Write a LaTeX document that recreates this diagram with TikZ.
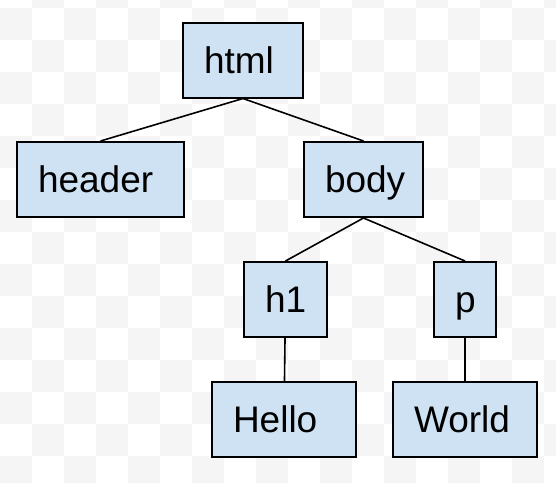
\documentclass[tikz,border=0pt]{standalone}
\usepackage{fontspec}
\setmainfont{Liberation Sans}
\usetikzlibrary{positioning}
\definecolor{tagFl}{HTML}{CFE2F3}
\definecolor{checkFl}{HTML}{F5F5F5}

\begin{document}
\begin{tikzpicture}[
  x=0.5pt, y=-0.5pt,
  font=\fontsize{18.5}{21}\selectfont,
  tag/.style={draw=black, fill=tagFl, line width=1pt,
              minimum height=37.5pt, inner xsep=10.5pt, inner ysep=0pt,
              text width=#1, align=left, text height=17pt, text depth=4pt},
  link/.style={line width=0.8pt, draw=black},
]

% ---------- background ----------
\fill[white] (0,0) rectangle (556,482);
\begin{scope}
  \clip (0,0) rectangle (556,482);
  \foreach \i in {0,...,17}
    \foreach \j in {-1,...,14} {
      \pgfmathtruncatemacro{\cellodd}{mod(\i+\j+2,2)}
      \ifnum\cellodd=0
        \fill[checkFl] (32*\i,8+32*\j) rectangle ++(32,32);
      \fi
    }
\end{scope}
\useasboundingbox (0,0) rectangle (556,482);

% ---------- tree ----------
\node[tag=39pt] (html) at (243,60) {html};
\node[tag=62.5pt] (header) at (100.5,179.5) {header};
\node[tag=38.5pt] (body) at (363.5,179.5) {body};
\node[tag=20.5pt] (h1) at (285.5,299.5) {h1};
\node[tag=10pt] (p) at (465,299.5) {p};
\node[tag=51pt] (hello) at (284,419.5) {Hello};
\node[tag=51pt] (world) at (465,419.5) {World};

% ---------- links ----------
\draw[link] (html.south) -- (header.north);
\draw[link] (html.south) -- (body.north);
\draw[link] (body.south) -- (h1.north);
\draw[link] (body.south) -- (p.north);
\draw[link] (h1) -- (hello);
\draw[link] (p) -- (world);

\end{tikzpicture}
\end{document}
